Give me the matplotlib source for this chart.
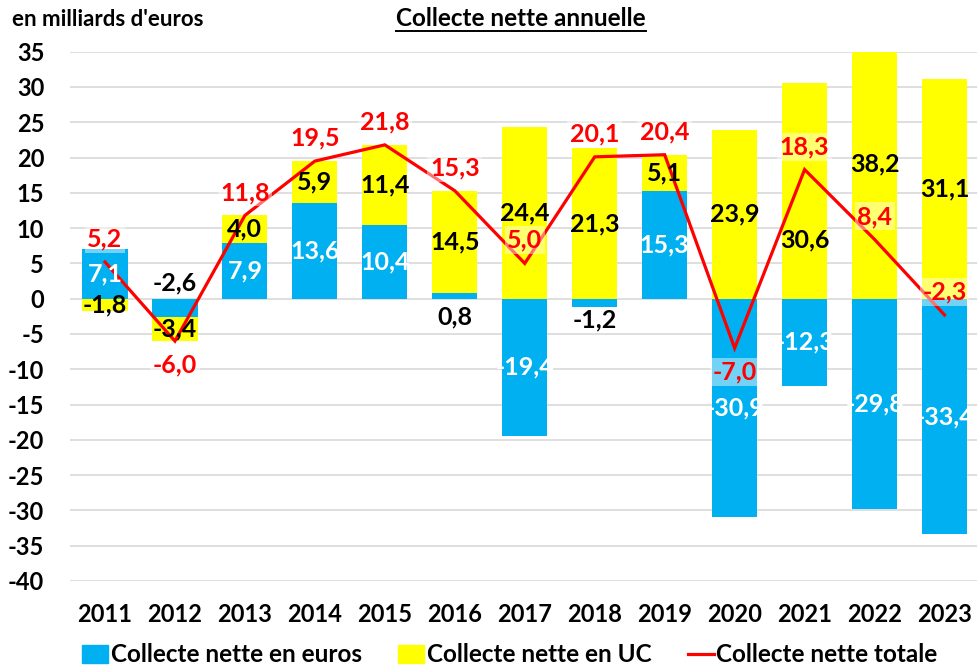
import matplotlib
matplotlib.use("Agg")
import matplotlib.pyplot as plt
import numpy as np
from matplotlib.patches import Patch
from matplotlib.lines import Line2D

years = ["2011", "2012", "2013", "2014", "2015", "2016", "2017", "2018", "2019", "2020", "2021", "2022", "2023"]
euros = [7.1, -2.6, 7.9, 13.6, 10.4, 0.8, -19.4, -1.2, 15.3, -30.9, -12.3, -29.8, -33.4]
uc = [-1.8, -3.4, 4.0, 5.9, 11.4, 14.5, 24.4, 21.3, 5.1, 23.9, 30.6, 38.2, 31.1]
total = [5.2, -6.0, 11.8, 19.5, 21.8, 15.3, 5.0, 20.1, 20.4, -7.0, 18.3, 8.4, -2.3]
yticks = list(range(-40, 40, 5))

plt.rcParams['font.family'] = ['Lato', 'DejaVu Sans']
plt.rcParams['font.weight'] = 'bold'

BLUE = '#00B0F0'
YELLOW = '#FFFF00'
RED = '#FF0000'

fig = plt.figure(figsize=(9.78, 6.71), dpi=100)
W, H = 978, 671
ax = fig.add_axes([70 / W, (H - 581) / H, (979.5 - 70) / W, (581 - 51.7) / H])

x = np.arange(len(years))
e = np.array(euros)
u = np.array(uc)
# Excel-style stacking: positives and negatives stacked separately
u_base = np.where(np.sign(u) == np.sign(e), e, 0.0)
bw = 0.645
ax.bar(x, e, width=bw, color=BLUE, zorder=2)
ax.bar(x, u, width=bw, bottom=u_base, color=YELLOW, zorder=2)
ax.plot(x, total, color=RED, lw=2.3, zorder=4, solid_joinstyle='miter')

ax.set_xlim(-0.5, len(years) - 0.5)
ax.set_ylim(-40, 35)
ax.set_yticks(yticks)
ax.set_yticklabels([str(v) for v in yticks])
ax.set_xticks(x)
ax.set_xticklabels(years)
ax.tick_params(axis='y', length=0, pad=18.5, labelsize=17)
ax.tick_params(axis='x', length=0, pad=16, labelsize=17)
ax.grid(axis='y', color='#D9D9D9', lw=1.2, zorder=0)
ax.set_axisbelow(True)
for s in ax.spines.values():
    s.set_visible(False)

fs = 18
# euros labels (small segments labelled outside, in black)
special_euro = {1: 2.2, 5: -2.6, 7: -3.0}
for i, v in enumerate(euros):
    if i in special_euro:
        ax.text(i, special_euro[i], f"{v:.1f}".replace('.', ','), ha='center', va='center',
                fontsize=fs, color='black', zorder=5)
    else:
        ax.text(i, v / 2, f"{v:.1f}".replace('.', ','), ha='center', va='center',
                fontsize=fs, color='white', zorder=5)
# uc labels
special_uc = {10: 8.3}
for i, v in enumerate(uc):
    yy = special_uc.get(i, u_base[i] + v / 2)
    ax.text(i, yy, f"{v:.1f}".replace('.', ','), ha='center', va='center',
            fontsize=fs, color='black', zorder=5)
# total labels
below = {1, 9}
for i, v in enumerate(total):
    off = -24 if i in below else 23
    ax.annotate(f"{v:.1f}".replace('.', ','), (i, v), xytext=(0, off), textcoords='offset pixels',
                ha='center', va='center', fontsize=fs, color=RED, zorder=6,
                bbox=dict(boxstyle='square,pad=0.1', fc='white', ec='none', alpha=0.45))

fig.text(12 / W, 1 - 20 / H, "en milliards d'euros", fontsize=16, ha='left', va='center')
title = fig.text(521 / W, 1 - 18 / H, "Collecte nette annuelle", fontsize=17.5, ha='center', va='center')
fig.canvas.draw()
bb = title.get_window_extent()
fig.add_artist(Line2D([bb.x0 / W, bb.x1 / W], [(bb.y0 - 1) / H, (bb.y0 - 1) / H], color='black', lw=1.4))

handles = [Patch(color=BLUE), Patch(color=YELLOW), Line2D([0], [0], color=RED, lw=2.3)]
labels = ["Collecte nette en euros", "Collecte nette en UC", "Collecte nette totale"]
fig.legend(handles, labels, loc='center', bbox_to_anchor=(510 / W, 1 - 655 / H), ncol=3,
           frameon=False, fontsize=17.5, handlelength=1.07, handletextpad=0.1, columnspacing=1.5,
           handleheight=0.8, borderpad=0)

fig.savefig('out.png', dpi=100)
